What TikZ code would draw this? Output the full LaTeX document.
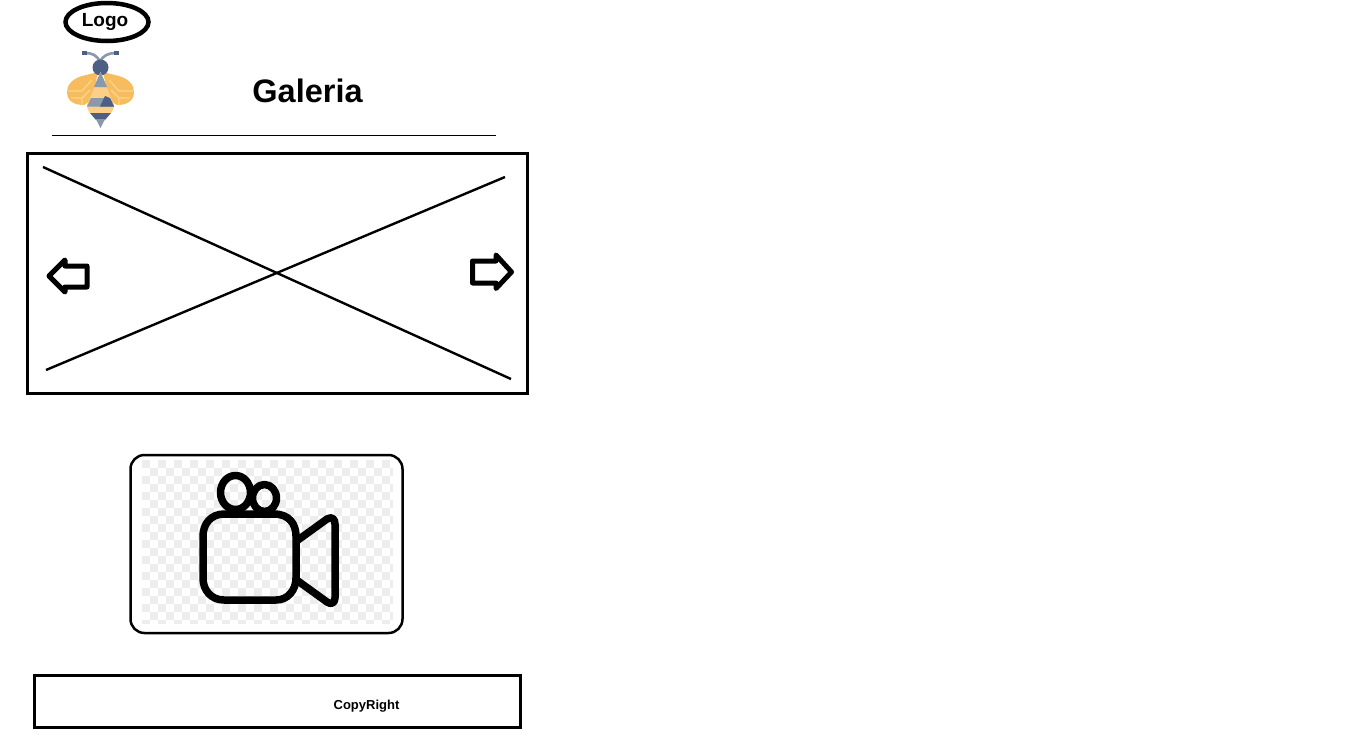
\documentclass[tikz,border=0pt]{standalone}
\usepackage{fontspec}
\setmainfont{Liberation Sans}
\usetikzlibrary{positioning,shapes.geometric}
\definecolor{beewing}{HTML}{F6BC5E}
\definecolor{beewingline}{HTML}{FBD58F}
\definecolor{beedark}{HTML}{4D5F82}
\definecolor{beegrey}{HTML}{8B97AB}
\definecolor{beepale}{HTML}{FBCF85}
\definecolor{checkgrey}{HTML}{EDEDED}
\tikzset{
  panel/.style={draw,line width=3pt},
  sketch/.style={line width=2.4pt},
  camline/.style={line width=7.5pt,line join=round,line cap=round},
  arrowline/.style={line width=5pt,line join=round},
}
\begin{document}
\begin{tikzpicture}[x=1pt,y=-1pt]
  \useasboundingbox (0,0) rectangle (1367,734);

  % header
  \node[ellipse,draw,line width=4.5pt,minimum width=83pt,minimum height=38pt,inner sep=0pt] (logo) at (107,22) {};
  \node[font=\bfseries\fontsize{19}{19}\selectfont] (logotext) at (105,22) {Logo};
  \node[font=\bfseries\fontsize{32.5}{32.5}\selectfont] (title) at (307.5,90.5) {Galeria};
  \coordinate (ruleL) at (52,135.5);
  \coordinate (ruleR) at (496,135.5);
  \draw[line width=0.8pt] (ruleL) -- (ruleR);

  % bee
  \fill[beewing] (98,72) -- (82,76) .. controls (72,79) and (67,85) .. (67,92) .. controls (67,101) and (74,105) .. (84,105) -- (92,100) -- cycle;
  \fill[beewing] (103,72) -- (119,76) .. controls (129,79) and (134,85) .. (134,92) .. controls (134,101) and (127,105) .. (117,105) -- (109,100) -- cycle;
  \draw[beewingline,line width=1.2pt] (68,91) -- (82,91) -- (92,80) (71,98) -- (82,98) -- (90,90) (82,105) -- (82,98);
  \draw[beewingline,line width=1.2pt] (133,91) -- (119,91) -- (109,80) (130,98) -- (119,98) -- (111,90) (119,105) -- (119,98);
  \draw[beegrey,line width=2.6pt] (100,62) .. controls (97,55) and (92,53) .. (85,53);
  \draw[beegrey,line width=2.6pt] (100,62) .. controls (103,55) and (109,53) .. (116,53);
  \fill[beedark] (82,50.5) rectangle (87,55);
  \fill[beedark] (114,50.5) rectangle (119,55);
  \fill[beedark] (100.5,67.5) circle (8);
  \fill[beepale] (100.5,72) -- (114,105) .. controls (114,110) and (111,113) .. (110,114) -- (91,114) .. controls (90,113) and (87,110) .. (87,105) -- cycle;
  \fill[beegrey] (100.5,72) -- (107,87) -- (94,87) -- cycle;
  \fill[beegrey] (91,98) -- (110,98) -- (114,106.5) -- (87,106.5) -- cycle;
  \fill[beedark] (105,96) -- (110,98) -- (114,106.5) -- (100,106.5) -- cycle;
  \fill[beedark] (90,113) -- (111,113) -- (105,120) -- (96,120) -- cycle;
  \fill[beegrey] (96,119) -- (105,119) -- (100.5,128) -- cycle;

  % slider
  \node[panel,minimum width=500pt,minimum height=240pt,inner sep=0pt] (slider) at (277.5,273.5) {};
  \coordinate (crossA) at (43,167);
  \coordinate (crossB) at (511,379);
  \coordinate (crossC) at (46,370);
  \coordinate (crossD) at (505,177);
  \draw[sketch] (crossA) -- (crossB);
  \draw[sketch] (crossC) -- (crossD);
  \draw[arrowline] (87,266) -- (65,266) -- (65,260) -- (49,276) -- (65,292) -- (65,287) -- (87,287) -- cycle;
  \draw[arrowline] (472.5,261) -- (496,261) -- (496,255) -- (511.5,272) -- (496,288.5) -- (496,283) -- (472.5,283) -- cycle;

  % video
  \begin{scope}
    \clip (142,460) rectangle (393,623);
    \foreach \col in {0,...,31}
      \foreach \row in {0,...,20}{
        \pgfmathparse{int(mod(\col+\row,2))}
        \ifnum\pgfmathresult=0
          \fill[checkgrey] (142+\col*8,460+\row*8) rectangle +(8,8);
        \fi
      }
  \end{scope}
  \node[draw,line width=2.5pt,rounded corners=14pt,minimum width=272pt,minimum height=178pt,inner sep=0pt] (video) at (266.5,544) {};
  \draw[camline] (235.5,492.5) ellipse (15 and 17);
  \draw[camline] (264.5,498) ellipse (12 and 13.5);
  \draw[camline] (224,514) -- (274,514) .. controls (289,514) and (296,524) .. (296,536)
    -- (296,578) .. controls (296,590) and (288,600) .. (276,600) -- (224,600)
    .. controls (211,600) and (203,590) .. (203,578) -- (203,536) .. controls (203,524) and (211,514) .. (224,514) -- cycle;
  \draw[camline] (298,540) -- (327,519) .. controls (332,516) and (335,519) .. (335,524) -- (335,598)
    .. controls (335,603) and (331,605) .. (327,602) -- (298,581);

  % footer
  \node[panel,minimum width=486pt,minimum height=52pt,inner sep=0pt] (footer) at (277.5,701) {};
  \node[font=\bfseries\fontsize{13}{13}\selectfont] (copyright) at (366.5,706) {CopyRight};
\end{tikzpicture}
\end{document}
